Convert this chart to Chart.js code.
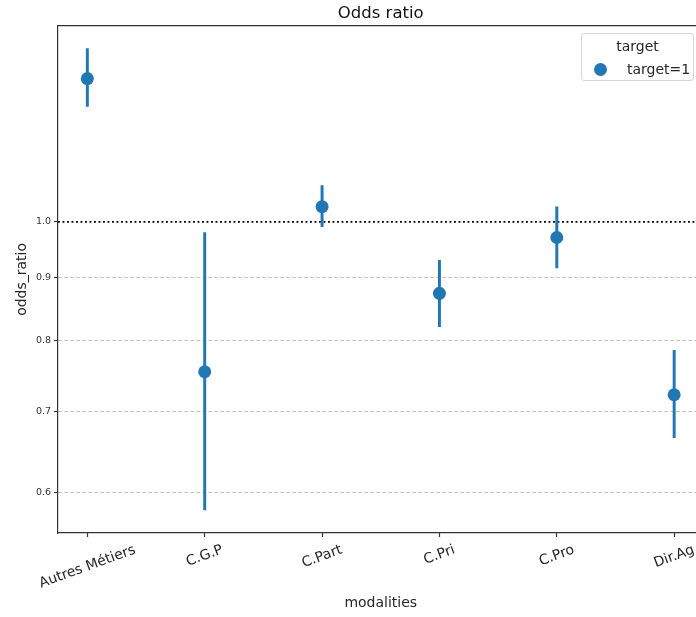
<!DOCTYPE html>
<html>
<head>
<meta charset="utf-8">
<script src="https://cdn.jsdelivr.net/npm/chart.js@4.4.0/dist/chart.umd.min.js"></script>
<style>
  body { margin: 0; overflow: hidden; background: #fff; }
  #wrap { position: relative; width: 710px; height: 617px; }
  #legend {
    position: absolute; left: 581px; top: 33px; width: 111px; height: 46px;
    border: 1px solid #d6d6d6; border-radius: 3px; background: rgba(255,255,255,0.8);
    font-family: 'DejaVu Sans'; font-size: 14px; color: #262626;
  }
  #legend .title { position: absolute; left: 0; right: 0; top: 4px; line-height: 16px; text-align: center; }
  #legend .dot { position: absolute; left: 12px; top: 29px; width: 13px; height: 13px; border-radius: 50%; background: #1f77b4; }
  #legend .lab { position: absolute; left: 45px; top: 27px; line-height: 16px; white-space: nowrap; }
</style>
</head>
<body>
<div id="wrap">
  <canvas id="canvas" width="710" height="617"></canvas>
  <div id="legend">
    <div class="title">target</div>
    <div class="dot"></div>
    <div class="lab">target=1</div>
  </div>
</div>
<script>

let categories = ['Autres Métiers', 'C.G.P', 'C.Part', 'C.Pri', 'C.Pro', 'Dir.Ag'];
let oddsRatio  = [1.310, 0.754, 1.029, 0.874, 0.971, 0.722];
let ciLow      = [1.243, 0.581, 0.991, 0.821, 0.917, 0.666];
let ciHigh     = [1.386, 0.980, 1.071, 0.930, 1.029, 0.785];
let yTicks     = [0.6, 0.7, 0.8, 0.9, 1.0];
let refLine    = 1.0;

Chart.defaults.font.family = 'DejaVu Sans';

// matplotlib style x labels : rotated 20 deg, centered under the tick
let xLabels = {
  id: 'xLabels',
  afterDraw(chart) {
    let ctx = chart.ctx;
    let xs = chart.scales.x;
    let a = 20 * Math.PI / 180;
    ctx.save();
    ctx.font = '14px "DejaVu Sans"';
    ctx.fillStyle = '#262626';
    ctx.textAlign = 'center';
    ctx.textBaseline = 'middle';
    for (let i = 0; i < categories.length; i++) {
      let w = ctx.measureText(categories[i]).width;
      let h = 16;
      let boxH = w * Math.sin(a) + h * Math.cos(a);
      let cx = xs.getPixelForValue(i);
      let cy = chart.chartArea.bottom + 9 + boxH / 2;
      ctx.save();
      ctx.translate(cx, cy);
      ctx.rotate(-a);
      ctx.fillText(categories[i], 0, 0);
      ctx.restore();
    }
    ctx.restore();
  }
};

let options = {
  type: 'scatter',
  data: {
    datasets: [
      {
        type: 'scatter',
        label: 'target=1',
        data: categories.map((c, i) => ({x: i, y: oddsRatio[i]})),
        backgroundColor: '#1f77b4',
        borderColor: '#1f77b4',
        pointRadius: 6.5,
        pointBorderWidth: 0,
        order: 0
      },
      {
        type: 'bar',
        label: 'ci',
        data: categories.map((c, i) => ({x: i, y: [ciLow[i], ciHigh[i]]})),
        backgroundColor: '#1f77b4',
        barThickness: 2.3,
        order: 1
      },
      {
        type: 'line',
        label: 'ref',
        data: [{x: -0.25, y: refLine}, {x: 5.25, y: refLine}],
        borderColor: '#000',
        borderWidth: 1.9,
        borderDash: [1.9, 2.6],
        pointRadius: 0,
        order: 2
      }
    ]
  },
  options: {
    responsive: false,
    animation: false,
    layout: { padding: { left: 0, right: 2, top: 0, bottom: 0 } },
    plugins: {
      legend: { display: false },
      tooltip: { enabled: false },
      title: {
        display: true,
        fullSize: false,
        text: 'Odds ratio',
        color: '#111',
        font: { size: 16.5, weight: 'normal' },
        padding: { top: 4, bottom: 2 }
      }
    },
    scales: {
      x: {
        type: 'linear',
        offset: false,
        min: -0.25,
        max: 5.25,
        afterBuildTicks: s => { s.ticks = categories.map((c, i) => ({value: i})); },
        afterFit: s => { s.height = 84; },
        ticks: { display: false },
        grid: { offset: false, drawOnChartArea: false, tickLength: 4, tickColor: '#333', tickWidth: 1.2 },
        border: { color: '#333', width: 1.2 },
        title: {
          display: true, text: 'modalities', color: '#262626',
          font: { size: 14 }, padding: { top: 0, bottom: 5 }
        }
      },
      x2: {
        type: 'linear',
        position: 'top',
        offset: false,
        min: -0.25,
        max: 5.25,
        afterFit: s => { s.height = 0; },
        ticks: { display: false },
        grid: { display: false },
        border: { display: true, color: '#333', width: 1.2 }
      },
      y: {
        type: 'logarithmic',
        min: 0.5564,
        max: 1.447,
        afterBuildTicks: s => { s.ticks = yTicks.map(v => ({value: v})); },
        afterFit: s => { s.width = 58; },
        ticks: {
          color: '#333',
          font: { size: 9.5 },
          padding: 3,
          callback: v => Number(v).toFixed(1)
        },
        grid: {
          color: c => (c.tick && c.tick.value === refLine) ? 'rgba(0,0,0,0)' : '#c4c4c4',
          lineWidth: 1,
          tickLength: 4,
          tickColor: '#333',
          tickWidth: 1.2
        },
        border: { color: '#333', width: 1.2, dash: [4, 2] },
        title: {
          display: true, text: 'odds_ratio', color: '#262626',
          font: { size: 14 }, padding: { top: 14, bottom: 0 }
        }
      }
    }
  },
  plugins: [xLabels]
};

let chart = new Chart(document.getElementById('canvas'), options);
</script>
</body>
</html>
